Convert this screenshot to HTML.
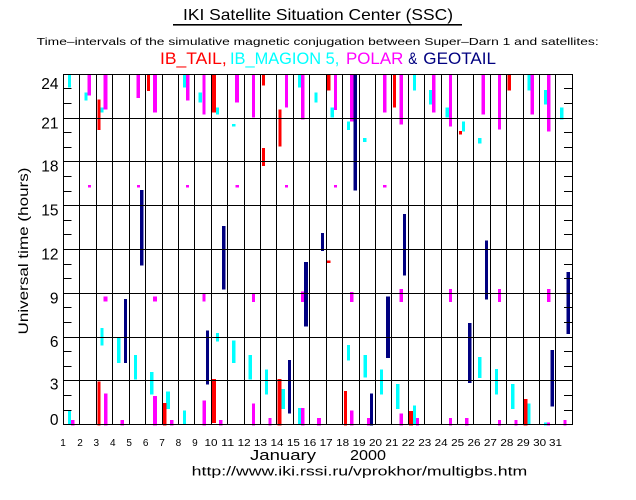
<!DOCTYPE html>
<html><head><meta charset="utf-8"><style>
html,body{margin:0;padding:0;background:#fff;}
svg{display:block;}
text{font-family:"Liberation Sans",sans-serif;}
</style></head><body>
<svg width="636" height="500" viewBox="0 0 636 500" xmlns="http://www.w3.org/2000/svg">
<rect width="636" height="500" fill="#fff"/>
<!-- Titles -->
<text x="183" y="20" font-size="16" fill="#000" textLength="270" lengthAdjust="spacingAndGlyphs">IKI Satellite Situation Center (SSC)</text>
<rect x="173" y="24" width="289" height="1.6" fill="#000"/>
<text x="36.7" y="45" font-size="10.5" fill="#000" textLength="562" lengthAdjust="spacingAndGlyphs">Time–intervals of the simulative magnetic conjugation between Super–Darn 1 and satellites:</text>
<g font-size="17">
<text x="160" y="64" fill="#ff0000" textLength="66.7" lengthAdjust="spacingAndGlyphs">IB_TAIL,</text>
<text x="230" y="64" fill="#00ffff" textLength="109.3" lengthAdjust="spacingAndGlyphs">IB_MAGION 5,</text>
<text x="346" y="64" fill="#ff00ff" textLength="57.3" lengthAdjust="spacingAndGlyphs">POLAR</text>
<text x="408.3" y="64" fill="#000080" textLength="9" lengthAdjust="spacingAndGlyphs">&amp;</text>
<text x="423.3" y="64" fill="#000080" textLength="72.7" lengthAdjust="spacingAndGlyphs">GEOTAIL</text>
</g>

<!-- Bars -->
<g shape-rendering="crispEdges">
<g fill="#00ffff">
<rect x="68" y="75" width="3" height="12.7"/>
<rect x="84.3" y="92.3" width="3.4" height="8.4"/>
<rect x="100.7" y="107.3" width="3" height="5.4"/>
<rect x="183" y="75" width="3" height="12.7"/>
<rect x="198.7" y="92.3" width="3.3" height="10.4"/>
<rect x="216" y="107.3" width="3" height="7.4"/>
<rect x="232" y="124" width="3.5" height="2.7"/>
<rect x="100.7" y="328" width="3" height="17.7"/>
<rect x="117" y="337.3" width="3.7" height="25.7"/>
<rect x="134" y="355" width="3" height="24.7"/>
<rect x="216" y="333" width="3" height="8.3"/>
<rect x="232" y="340.3" width="3.5" height="22.7"/>
<rect x="150" y="372" width="3.3" height="22.7"/>
<rect x="68" y="410.7" width="3" height="13.3"/>
<rect x="166" y="391.3" width="4" height="17.7"/>
<rect x="183" y="410.7" width="3" height="13.3"/>
<rect x="298" y="75" width="3" height="12.7"/>
<rect x="314.3" y="92.3" width="3.4" height="10.4"/>
<rect x="330.7" y="107.3" width="3.3" height="10"/>
<rect x="347" y="121.7" width="3" height="8.3"/>
<rect x="363" y="138" width="3.7" height="4"/>
<rect x="248.3" y="355" width="3.7" height="24.7"/>
<rect x="265" y="369.7" width="3" height="25"/>
<rect x="281.7" y="389" width="3.3" height="20"/>
<rect x="298" y="408" width="3" height="16"/>
<rect x="347" y="345" width="3" height="15.7"/>
<rect x="363.3" y="355" width="3.7" height="22.3"/>
<rect x="380" y="369.7" width="3" height="25"/>
<rect x="396" y="384" width="3.7" height="25"/>
<rect x="413" y="75" width="3" height="15.7"/>
<rect x="429" y="90" width="3" height="14.7"/>
<rect x="445.3" y="107.3" width="3.7" height="10"/>
<rect x="462" y="121.7" width="3" height="10"/>
<rect x="478" y="138" width="3.7" height="5.3"/>
<rect x="527.7" y="75" width="3" height="15.7"/>
<rect x="544" y="90" width="3" height="14.7"/>
<rect x="560" y="107.3" width="3.7" height="12"/>
<rect x="478" y="357" width="3.7" height="21"/>
<rect x="495" y="369" width="3" height="25.7"/>
<rect x="511" y="384" width="3.3" height="25"/>
<rect x="413" y="405.7" width="3" height="18.3"/>
<rect x="527.7" y="403.3" width="3" height="20.7"/>
<rect x="544" y="422.7" width="3" height="3"/>
</g>
<g fill="#ff00ff">
<rect x="87.7" y="75" width="3.3" height="20.7"/>
<rect x="103.7" y="75" width="3.6" height="34.3"/>
<rect x="136.7" y="75" width="3.3" height="23"/>
<rect x="153" y="75" width="4" height="37.7"/>
<rect x="186" y="75" width="3.7" height="25.7"/>
<rect x="202.3" y="75" width="3.4" height="39.7"/>
<rect x="88" y="185" width="3" height="2.7"/>
<rect x="137" y="185" width="3" height="2.7"/>
<rect x="186" y="185" width="3" height="2.7"/>
<rect x="103.7" y="296.3" width="3.6" height="5.4"/>
<rect x="153" y="296.3" width="4" height="5.4"/>
<rect x="202.7" y="293.7" width="3" height="8"/>
<rect x="104" y="393.7" width="3.3" height="32"/>
<rect x="71" y="420" width="3.7" height="5.7"/>
<rect x="120.3" y="420" width="3.7" height="5.7"/>
<rect x="153" y="396" width="4" height="29.7"/>
<rect x="170" y="420" width="3.3" height="5.7"/>
<rect x="202.7" y="400.7" width="3.3" height="25"/>
<rect x="219" y="420" width="3.3" height="5.7"/>
<rect x="235" y="75" width="4" height="27.7"/>
<rect x="252" y="75" width="3" height="42.3"/>
<rect x="285" y="75" width="3" height="32.7"/>
<rect x="301" y="75" width="3.7" height="44.3"/>
<rect x="334" y="75" width="3" height="35"/>
<rect x="350" y="75" width="3.7" height="46.7"/>
<rect x="383" y="75" width="3.7" height="37.7"/>
<rect x="399.3" y="75" width="3.7" height="49.3"/>
<rect x="235.3" y="185" width="3.7" height="2.7"/>
<rect x="285" y="185" width="3" height="2.7"/>
<rect x="334" y="185" width="3" height="2.7"/>
<rect x="383" y="185" width="3.7" height="2.7"/>
<rect x="252" y="293.7" width="3" height="8.3"/>
<rect x="301" y="291.3" width="3" height="10.7"/>
<rect x="350" y="292" width="3.7" height="10"/>
<rect x="399.3" y="289" width="3.7" height="13"/>
<rect x="252" y="403.3" width="3" height="22.4"/>
<rect x="268.3" y="418" width="3.4" height="7.7"/>
<rect x="301" y="408" width="3.7" height="17.7"/>
<rect x="317" y="418" width="4" height="7.7"/>
<rect x="350" y="410.7" width="3.7" height="15"/>
<rect x="367" y="418" width="3" height="7.7"/>
<rect x="399.3" y="413.3" width="3.7" height="12.4"/>
<rect x="432" y="75" width="3.7" height="37.7"/>
<rect x="449" y="75" width="3" height="51.7"/>
<rect x="481.7" y="75" width="3.3" height="39.7"/>
<rect x="498" y="75" width="3" height="54.3"/>
<rect x="530.7" y="75" width="3.3" height="39.7"/>
<rect x="547" y="75" width="3.7" height="56.7"/>
<rect x="449" y="289" width="3" height="13"/>
<rect x="498" y="289" width="3" height="13"/>
<rect x="547" y="289" width="3.7" height="13"/>
<rect x="416" y="418" width="3" height="7.7"/>
<rect x="449" y="418" width="3" height="7.7"/>
<rect x="465" y="418" width="3.7" height="7.7"/>
<rect x="498" y="420" width="3" height="5.7"/>
<rect x="514.3" y="420" width="3.4" height="5.7"/>
<rect x="547" y="422.7" width="3" height="3"/>
<rect x="563.7" y="420" width="3" height="5.7"/>
</g>
<g fill="#ff0000">
<rect x="97.3" y="99.3" width="3.4" height="30.7"/>
<rect x="147" y="75" width="3" height="16"/>
<rect x="211.7" y="75" width="4.3" height="37.7"/>
<rect x="97.3" y="381.3" width="3.4" height="44.4"/>
<rect x="163" y="403" width="3.7" height="22.7"/>
<rect x="211.7" y="379" width="4.3" height="44"/>
<rect x="262" y="75" width="3" height="10.7"/>
<rect x="278.3" y="109.3" width="3.4" height="37.4"/>
<rect x="262" y="148" width="3" height="18"/>
<rect x="327" y="75" width="3.7" height="15.7"/>
<rect x="393" y="75" width="3" height="32.7"/>
<rect x="327" y="260.3" width="3.7" height="2.7"/>
<rect x="277.7" y="379" width="4" height="46.7"/>
<rect x="344" y="391" width="3" height="34.7"/>
<rect x="459" y="131" width="3" height="3.3"/>
<rect x="507.7" y="75" width="3.3" height="15.7"/>
<rect x="409" y="411" width="4" height="14.7"/>
<rect x="523.7" y="399" width="4" height="26.7"/>
</g>
<g fill="#000080">
<rect x="140" y="190" width="3.7" height="75.3"/>
<rect x="222" y="226" width="3.7" height="63.7"/>
<rect x="124" y="299" width="3" height="64"/>
<rect x="206" y="330.3" width="3" height="54.4"/>
<rect x="353.3" y="75" width="3.7" height="115.7"/>
<rect x="321" y="233" width="3" height="18"/>
<rect x="304" y="262" width="4" height="64.3"/>
<rect x="386" y="296.3" width="4" height="61.7"/>
<rect x="288" y="360" width="3" height="53.7"/>
<rect x="370" y="393.7" width="3" height="32"/>
<rect x="403" y="214" width="3" height="61.3"/>
<rect x="485" y="240.7" width="3" height="59"/>
<rect x="566.7" y="272" width="3.3" height="62"/>
<rect x="468" y="323" width="3.7" height="60"/>
<rect x="550.3" y="350" width="3.7" height="56.7"/>
</g>
</g>

<!-- Grid and axes -->
<g stroke="#000" stroke-width="1" shape-rendering="crispEdges" fill="none">
<rect x="63.5" y="74.5" width="509" height="350"/>
<path d="M79.5 74.5V424.5M96.5 74.5V424.5M112.5 74.5V424.5M129.5 74.5V424.5M145.5 74.5V424.5M162.5 74.5V424.5M178.5 74.5V424.5M194.5 74.5V424.5M211.5 74.5V424.5M227.5 74.5V424.5M244.5 74.5V424.5M260.5 74.5V424.5M276.5 74.5V424.5M293.5 74.5V424.5M309.5 74.5V424.5M326.5 74.5V424.5M342.5 74.5V424.5M359.5 74.5V424.5M375.5 74.5V424.5M391.5 74.5V424.5M408.5 74.5V424.5M424.5 74.5V424.5M441.5 74.5V424.5M457.5 74.5V424.5M473.5 74.5V424.5M490.5 74.5V424.5M506.5 74.5V424.5M523.5 74.5V424.5M539.5 74.5V424.5M555.5 74.5V424.5"/>
<path d="M63.5 118.5H572.5M63.5 161.5H572.5M63.5 205.5H572.5M63.5 249.5H572.5M63.5 293.5H572.5M63.5 337.5H572.5M63.5 380.5H572.5"/>
<path d="M63.5 88.5H71.5M63.5 103.5H71.5M63.5 132.5H71.5M63.5 147.5H71.5M63.5 176.5H71.5M63.5 191.5H71.5M63.5 220.5H71.5M63.5 234.5H71.5M63.5 264.5H71.5M63.5 278.5H71.5M63.5 307.5H71.5M63.5 322.5H71.5M63.5 351.5H71.5M63.5 366.5H71.5M63.5 395.5H71.5M63.5 410.5H71.5"/>
<path d="M564 88.5H572.5M564 103.5H572.5M564 132.5H572.5M564 147.5H572.5M564 176.5H572.5M564 191.5H572.5M564 220.5H572.5M564 234.5H572.5M564 264.5H572.5M564 278.5H572.5M564 307.5H572.5M564 322.5H572.5M564 351.5H572.5M564 366.5H572.5M564 395.5H572.5M564 410.5H572.5"/>
</g>

<!-- Y tick labels -->
<g font-size="15.5" fill="#000" text-anchor="end">
<text x="58.5" y="89">24</text>
<text x="58.5" y="128.5">21</text>
<text x="58.5" y="171.5">18</text>
<text x="58.5" y="215.5">15</text>
<text x="58.5" y="259.5">12</text>
<text x="58.5" y="303.5">9</text>
<text x="58.5" y="347">6</text>
<text x="58.5" y="389.5">3</text>
<text x="58.5" y="425">0</text>
</g>
<text transform="translate(28,251) rotate(-90)" font-size="14" fill="#000" text-anchor="middle" textLength="167" lengthAdjust="spacingAndGlyphs">Universal time (hours)</text>

<!-- X tick labels -->
<g font-size="10" fill="#000" text-anchor="middle">
<text x="63" y="446">1</text>
<text x="80" y="446">2</text>
<text x="96.3" y="446">3</text>
<text x="112.8" y="446">4</text>
<text x="129.2" y="446">5</text>
<text x="145.6" y="446">6</text>
<text x="162" y="446">7</text>
<text x="178.4" y="446">8</text>
<text x="194.9" y="446">9</text>
<text x="211" y="446" textLength="13" lengthAdjust="spacingAndGlyphs">10</text>
<text x="227.7" y="446" textLength="13" lengthAdjust="spacingAndGlyphs">11</text>
<text x="244.1" y="446" textLength="13" lengthAdjust="spacingAndGlyphs">12</text>
<text x="260.5" y="446" textLength="13" lengthAdjust="spacingAndGlyphs">13</text>
<text x="277" y="446" textLength="13" lengthAdjust="spacingAndGlyphs">14</text>
<text x="293.4" y="446" textLength="13" lengthAdjust="spacingAndGlyphs">15</text>
<text x="309.8" y="446" textLength="13" lengthAdjust="spacingAndGlyphs">16</text>
<text x="326.2" y="446" textLength="13" lengthAdjust="spacingAndGlyphs">17</text>
<text x="342.6" y="446" textLength="13" lengthAdjust="spacingAndGlyphs">18</text>
<text x="359.1" y="446" textLength="13" lengthAdjust="spacingAndGlyphs">19</text>
<text x="375.5" y="446" textLength="13" lengthAdjust="spacingAndGlyphs">20</text>
<text x="391.9" y="446" textLength="13" lengthAdjust="spacingAndGlyphs">21</text>
<text x="408.3" y="446" textLength="13" lengthAdjust="spacingAndGlyphs">22</text>
<text x="424.8" y="446" textLength="13" lengthAdjust="spacingAndGlyphs">23</text>
<text x="441.2" y="446" textLength="13" lengthAdjust="spacingAndGlyphs">24</text>
<text x="457.6" y="446" textLength="13" lengthAdjust="spacingAndGlyphs">25</text>
<text x="474" y="446" textLength="13" lengthAdjust="spacingAndGlyphs">26</text>
<text x="490.4" y="446" textLength="13" lengthAdjust="spacingAndGlyphs">27</text>
<text x="506.9" y="446" textLength="13" lengthAdjust="spacingAndGlyphs">28</text>
<text x="523.3" y="446" textLength="13" lengthAdjust="spacingAndGlyphs">29</text>
<text x="539.7" y="446" textLength="13" lengthAdjust="spacingAndGlyphs">30</text>
<text x="555.5" y="446" textLength="13" lengthAdjust="spacingAndGlyphs">31</text>
</g>

<text x="250" y="460" font-size="15" fill="#000" textLength="66" lengthAdjust="spacingAndGlyphs">January</text>
<text x="350" y="460" font-size="15" fill="#000" textLength="36" lengthAdjust="spacingAndGlyphs">2000</text>
<text x="191.7" y="475.5" font-size="13" fill="#000" textLength="335.6" lengthAdjust="spacingAndGlyphs">http://www.iki.rssi.ru/vprokhor/multigbs.htm</text>
</svg>
</body></html>
